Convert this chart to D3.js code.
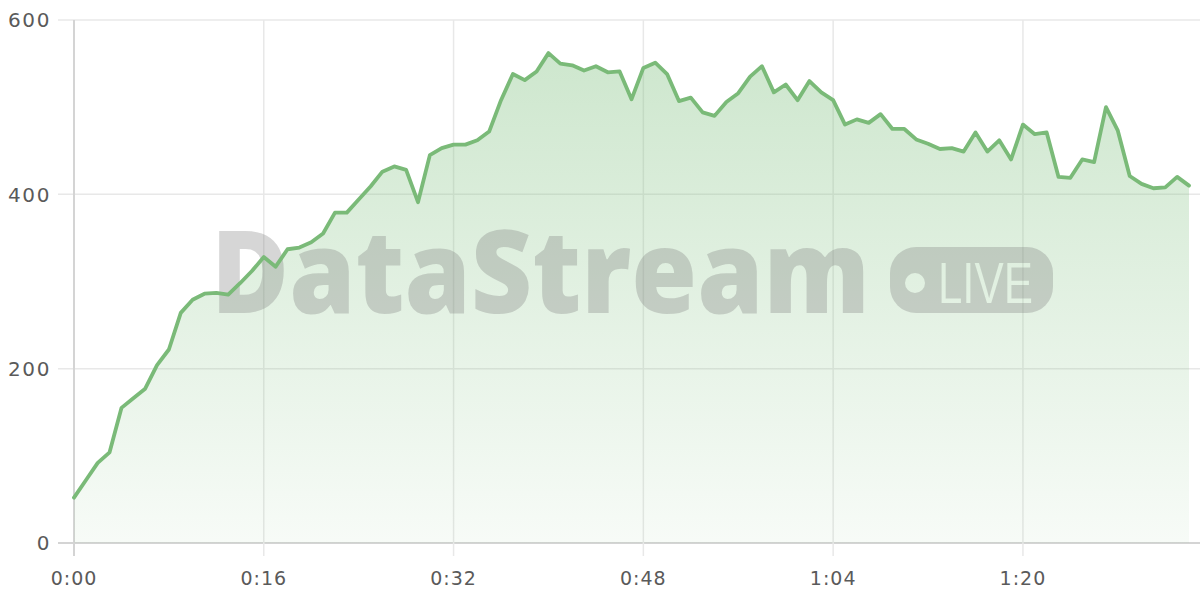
<!DOCTYPE html>
<html>
<head>
<meta charset="utf-8">
<script src="https://cdn.jsdelivr.net/npm/d3@7"></script>
<style>
  html, body { margin: 0; padding: 0; background: #ffffff; }
  svg { display: block; }
</style>
</head>
<body>
<svg id="chart" width="1200" height="600"></svg>
<script>
// ---- data ----
const seconds = d3.range(0, 95);
const values = [52,72,92,104,155,166,177,204,222,264,
  279,286,287,285,298,312,328,317,337,339,
  345,355,379,379,394,409,426,432,428,391,
  445,453,457,457,462,472,508,538,531,541,
  562,550,548,542,547,540,541,509,545,551,
  538,507,511,494,490,506,516,535,547,517,
  526,508,530,517,508,480,486,482,492,475,
  475,463,458,452,453,449,471,449,462,440,
  480,469,471,420,419,440,437,500,473,421,
  412,407,408,420,410];
const xTicks = [0, 16, 32, 48, 64, 80];
const xTickLabels = ["0:00", "0:16", "0:32", "0:48", "1:04", "1:20"];
const yTicks = [0, 200, 400, 600];
const watermarkText = "DataStream";
const badgeText = "LIVE";

(function () {
const data = seconds.map((s, i) => ({ t: s, v: values[i] }));

const svg = d3.select("#chart");
const mLeft = 74, mRight = 1189, mTop = 20, mBottom = 543;

const x = d3.scaleLinear().domain([0, 94]).range([mLeft, mRight]);
const y = d3.scaleLinear().domain([0, 600]).range([mBottom, mTop]);

const defs = svg.append("defs");
const grad = defs.append("linearGradient").attr("id", "areaGrad")
  .attr("x1", 0).attr("y1", 0).attr("x2", 0).attr("y2", 1);
grad.append("stop").attr("offset", "0%").attr("stop-color", "#7dbf7d").attr("stop-opacity", 0.38);
grad.append("stop").attr("offset", "100%").attr("stop-color", "#7dbf7d").attr("stop-opacity", 0.06);

// grid horizontal
svg.append("g").selectAll("line").data(yTicks).join("line")
  .attr("x1", 58).attr("x2", 1200)
  .attr("y1", d => y(d)).attr("y2", d => y(d))
  .attr("stroke", d => d === 0 ? "#d4d4d4" : "#e8e8e8")
  .attr("stroke-width", d => d === 0 ? 2 : 1.5);

// grid vertical
svg.append("g").selectAll("line").data(xTicks).join("line")
  .attr("x1", d => x(d)).attr("x2", d => x(d))
  .attr("y1", mTop).attr("y2", 556)
  .attr("stroke", d => d === 0 ? "#d4d4d4" : "#e8e8e8")
  .attr("stroke-width", d => d === 0 ? 2 : 1.5);

// area
const area = d3.area().x(d => x(d.t)).y0(y(0)).y1(d => y(d.v));
svg.append("path").datum(data).attr("d", area).attr("fill", "url(#areaGrad)");

// watermark
const wm = svg.append("g").attr("opacity", 0.3);
wm.append("text").text(watermarkText)
  .attr("x", 211).attr("y", 313)
  .attr("font-family", "Open Sans, Noto Sans, sans-serif")
  .attr("font-weight", 800).attr("font-size", 116)
  .attr("textLength", 659).attr("lengthAdjust", "spacingAndGlyphs")
  .attr("fill", "#7a7a7a");
const mask = defs.append("mask").attr("id", "badgeMask");
mask.append("rect").attr("x", 0).attr("y", 0).attr("width", 1200).attr("height", 600).attr("fill", "white");
mask.append("circle").attr("cx", 915).attr("cy", 283).attr("r", 10).attr("fill", "black");
mask.append("text").text(badgeText).attr("x", 938).attr("y", 303)
  .attr("font-family", "Liberation Sans, Arial, sans-serif")
  .attr("font-size", 57).attr("textLength", 95).attr("lengthAdjust", "spacingAndGlyphs")
  .attr("fill", "black");
wm.append("rect").attr("x", 890).attr("y", 247).attr("width", 163).attr("height", 66)
  .attr("rx", 26).attr("fill", "#7a7a7a").attr("mask", "url(#badgeMask)");

// line
const line = d3.line().x(d => x(d.t)).y(d => y(d.v));
svg.append("path").datum(data).attr("d", line)
  .attr("fill", "none").attr("stroke", "#7aba78").attr("stroke-width", 3.8)
  .attr("stroke-linejoin", "round").attr("stroke-linecap", "round");

// axis labels
const font = "DejaVu Sans, Verdana, sans-serif";
svg.append("g").selectAll("text").data(yTicks).join("text")
  .attr("x", 51).attr("y", d => y(d)).attr("dy", "0.36em")
  .attr("text-anchor", "end").attr("font-family", font).attr("font-size", 20)
  .attr("letter-spacing", 1.6)
  .attr("fill", "#5a5a5a").text(d => d);
svg.append("g").selectAll("text").data(xTicks).join("text")
  .attr("x", d => x(d)).attr("y", 578).attr("dy", "0.36em")
  .attr("text-anchor", "middle").attr("font-family", font).attr("font-size", 19)
  .attr("letter-spacing", 1)
  .attr("fill", "#5a5a5a").text((d, i) => xTickLabels[i]);
})();
</script>
</body>
</html>
